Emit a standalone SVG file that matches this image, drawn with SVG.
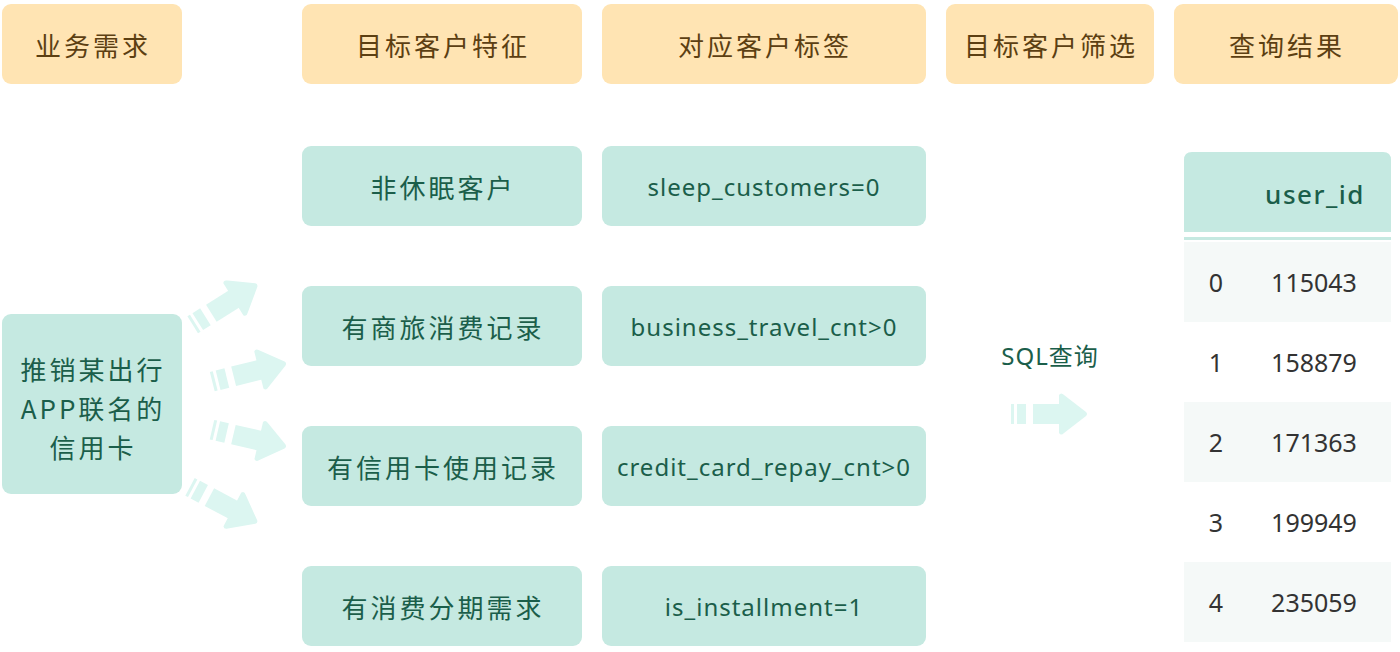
<svg xmlns="http://www.w3.org/2000/svg" width="1400" height="652" viewBox="0 0 1400 652">
<style>
.hd{fill:#FFE4B3}
.hdt{font-family:"Noto Sans CJK SC","Noto Sans",sans-serif;font-size:26px;letter-spacing:3px;fill:#5C3F12;text-anchor:middle;dominant-baseline:central}
.tl{fill:#C5E9E1}
.cn{font-family:"Noto Sans CJK SC","Noto Sans",sans-serif;font-size:26px;letter-spacing:3px;fill:#1B5E4A;text-anchor:middle;dominant-baseline:central}
.en{font-family:"Noto Sans","Noto Sans CJK SC",sans-serif;font-size:24px;letter-spacing:1px;fill:#1B5E4A;text-anchor:middle;dominant-baseline:central}
.ar{fill:#DCF6F1}
.num{font-family:"Noto Sans",sans-serif;font-size:25px;fill:#333333;text-anchor:middle;dominant-baseline:central}
.rg{fill:#F5F9F8}
</style>
<defs>
<g id="arrow">
<rect x="-77" y="-10" width="3" height="20"/>
<rect x="-71" y="-10" width="9" height="20"/>
<rect x="-55" y="-10" width="30" height="20"/>
<path d="M-29,-19 Q-27,-22 -24,-19 L-2,-2 Q0,0 -2,2 L-24,19 Q-27,22 -29,19 Z"/>
</g>
</defs>
<rect width="1400" height="652" fill="#FFFFFF"/>

<g id="headers">
<g id="h1"><rect class="hd" x="2" y="4" width="180" height="80" rx="9"/><text class="hdt" x="93" y="44">业务需求</text></g>
<g id="h2"><rect class="hd" x="302" y="4" width="280" height="80" rx="9"/><text class="hdt" x="443" y="44">目标客户特征</text></g>
<g id="h3"><rect class="hd" x="602" y="4" width="324" height="80" rx="9"/><text class="hdt" x="765" y="44">对应客户标签</text></g>
<g id="h4"><rect class="hd" x="946" y="4" width="208" height="80" rx="9"/><text class="hdt" x="1051" y="44">目标客户筛选</text></g>
<g id="h5"><rect class="hd" x="1174" y="4" width="224" height="80" rx="9"/><text class="hdt" x="1287" y="44">查询结果</text></g>
</g>

<g id="need"><rect class="tl" x="2" y="314" width="180" height="180" rx="9"/>
<text class="cn" x="93" y="368" font-size="27">推销某出行</text>
<text class="cn" x="93" y="407" font-size="27">APP联名的</text>
<text class="cn" x="93" y="446" font-size="27">信用卡</text></g>

<g id="f1"><rect class="tl" x="302" y="146" width="280" height="80" rx="9"/><text class="cn" x="443" y="186">非休眠客户</text></g>
<g id="f2"><rect class="tl" x="302" y="286" width="280" height="80" rx="9"/><text class="cn" x="443" y="326">有商旅消费记录</text></g>
<g id="f3"><rect class="tl" x="302" y="426" width="280" height="80" rx="9"/><text class="cn" x="443" y="466">有信用卡使用记录</text></g>
<g id="f4"><rect class="tl" x="302" y="566" width="280" height="80" rx="9"/><text class="cn" x="443" y="606">有消费分期需求</text></g>

<g id="t1"><rect class="tl" x="602" y="146" width="324" height="80" rx="9"/><text class="en" x="764" y="186">sleep_customers=0</text></g>
<g id="t2"><rect class="tl" x="602" y="286" width="324" height="80" rx="9"/><text class="en" x="764" y="326">business_travel_cnt&gt;0</text></g>
<g id="t3"><rect class="tl" x="602" y="426" width="324" height="80" rx="9"/><text class="en" x="764" y="466">credit_card_repay_cnt&gt;0</text></g>
<g id="t4"><rect class="tl" x="602" y="566" width="324" height="80" rx="9"/><text class="en" x="764" y="606">is_installment=1</text></g>

<g id="connectors" class="ar">
<use href="#arrow" transform="translate(258,284) rotate(-32)"/>
<use href="#arrow" transform="translate(287,363) rotate(-14)"/>
<use href="#arrow" transform="translate(287,447) rotate(13)"/>
<use href="#arrow" transform="translate(258,523) rotate(28)"/>
<use href="#arrow" transform="translate(1088,414)"/>
</g>

<g id="sql"><text class="en" x="1050" y="355" font-size="21">SQL查询</text></g>

<g id="result">
<path d="M1184,232 V160 Q1184,152 1192,152 H1383 Q1391,152 1391,160 V232 Z" fill="#C5E9E1"/>
<rect x="1184" y="237" width="207" height="3" fill="#C5E9E1"/>
<text x="1315" y="194" font-family="Noto Sans,sans-serif" font-size="26" font-weight="500" letter-spacing="1.5" fill="#1B5E4A" text-anchor="middle" dominant-baseline="central">user_id</text>
<rect class="rg" x="1184" y="242" width="207" height="80"/>
<rect class="rg" x="1184" y="402" width="207" height="80"/>
<rect class="rg" x="1184" y="562" width="207" height="80"/>
<text class="num" x="1216" y="282">0</text><text class="num" x="1314" y="282">115043</text>
<text class="num" x="1216" y="362">1</text><text class="num" x="1314" y="362">158879</text>
<text class="num" x="1216" y="442">2</text><text class="num" x="1314" y="442">171363</text>
<text class="num" x="1216" y="522">3</text><text class="num" x="1314" y="522">199949</text>
<text class="num" x="1216" y="602">4</text><text class="num" x="1314" y="602">235059</text>
</g>
</svg>
